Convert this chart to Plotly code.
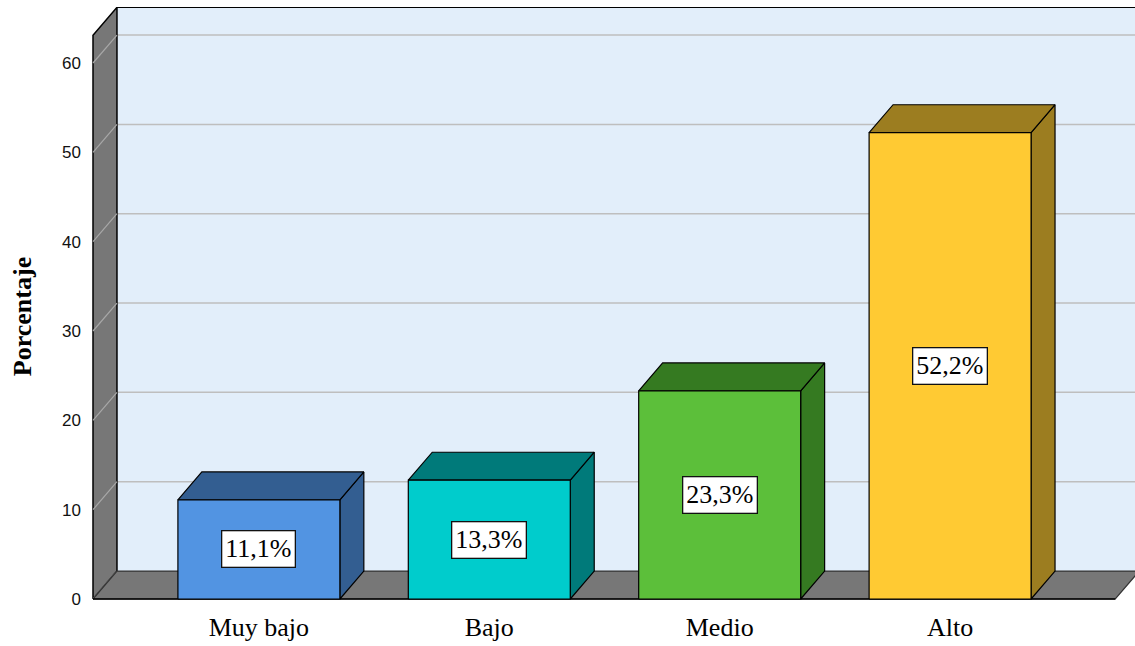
import plotly.graph_objects as go

# ---- data ----
categories = ["Muy bajo", "Bajo", "Medio", "Alto"]
values = [11.1, 13.3, 23.3, 52.2]
front_colors = ["#5294E2", "#00CCCC", "#5CBF3A", "#FFCA33"]
shade_colors = ["#335E91", "#007A7A", "#357A21", "#9C7D20"]
y_ticks = [0, 10, 20, 30, 40, 50, 60]

# ---- geometry (data units) ----
BAR_W = 0.703
DX, DY = 0.104, 3.13          # depth offset of the 3D box
X0, X1 = -0.72, 3.717          # front left / right of floor
YTOP = 63.1                    # top of the left wall (front)
XMIN, XMAX = -0.7504, 3.8026
YMIN, YMAX = -0.784, 66.27

WALL = "#777777"
BACK = "#E2EEFA"

fig = go.Figure()

def poly(xs, ys, fill, line_color="black", lw=1.2):
    fig.add_trace(go.Scatter(
        x=list(xs) + [xs[0]], y=list(ys) + [ys[0]], mode="lines",
        fill="toself", fillcolor=fill,
        line=dict(color=line_color, width=lw),
        hoverinfo="skip", showlegend=False))

def seg(xs, ys, color, lw):
    fig.add_trace(go.Scatter(x=xs, y=ys, mode="lines",
                             line=dict(color=color, width=lw),
                             hoverinfo="skip", showlegend=False))

# back wall
poly([X0 + DX, XMAX + 1, XMAX + 1, X0 + DX], [DY, DY, YTOP + DY, YTOP + DY], BACK, BACK, 0)
# back wall gridlines
for v in y_ticks[1:]:
    seg([X0 + DX, XMAX + 1], [v + DY, v + DY], "#BEBEBE", 1.5)
# back wall border (top)
seg([X0 + DX, XMAX + 1], [YTOP + DY, YTOP + DY], "black", 1.5)
# left wall
poly([X0, X0 + DX, X0 + DX, X0], [0, DY, YTOP + DY, YTOP], WALL, "black", 1.5)
for v in y_ticks:
    seg([X0, X0 + DX], [v, v + DY], "#A8A8A8", 1.2)
# floor
poly([X0, X1, X1 + DX, X0 + DX], [0, 0, DY, DY], WALL, "#333333", 1.2)
seg([X0, X1], [0, 0], "black", 1.5)

# bars
for i, (v, fc, sc) in enumerate(zip(values, front_colors, shade_colors)):
    xl, xr = i - BAR_W / 2, i + BAR_W / 2
    poly([xr, xr + DX, xr + DX, xr], [0, DY, v + DY, v], sc)        # side
    poly([xl, xr, xr + DX, xl + DX], [v, v, v + DY, v + DY], sc)    # top
    poly([xl, xr, xr, xl], [0, 0, v, v], fc)                        # front

# value labels
for i, v in enumerate(values):
    fig.add_annotation(
        x=i, y=v / 2, xref="x", yref="y",
        text=f"{v:.1f}".replace(".", ",") + "%",
        showarrow=False,
        font=dict(family="Liberation Serif", size=26, color="black"),
        bgcolor="white", bordercolor="#111111", borderwidth=1.3, borderpad=3)

# y title
fig.add_annotation(
    x=0, xref="paper", xanchor="center", xshift=-64,
    y=YTOP / 2, yref="y", yanchor="middle",
    text="<b>Porcentaje</b>", textangle=-90, showarrow=False,
    font=dict(family="Liberation Serif", size=26, color="black"))

fig.update_layout(
    width=1135, height=646,
    margin=dict(l=86, r=0, t=7, b=40),
    paper_bgcolor="white", plot_bgcolor="white",
    showlegend=False,
    xaxis=dict(range=[XMIN, XMAX], tickvals=list(range(len(categories))),
               ticktext=categories, showgrid=False, zeroline=False,
               showline=False, ticks="", ticklabelstandoff=3,
               tickfont=dict(family="Liberation Serif", size=26, color="black")),
    yaxis=dict(range=[YMIN, YMAX], tickvals=y_ticks, showgrid=False,
               zeroline=False, showline=False, ticks="", ticklabelstandoff=4,
               tickfont=dict(family="Liberation Sans", size=17, color="#111111")),
)

fig.write_html(
    "out.html",
    config={"displayModeBar": False},
    post_script="document.body.style.margin='0';document.body.style.overflow='hidden';",
)
